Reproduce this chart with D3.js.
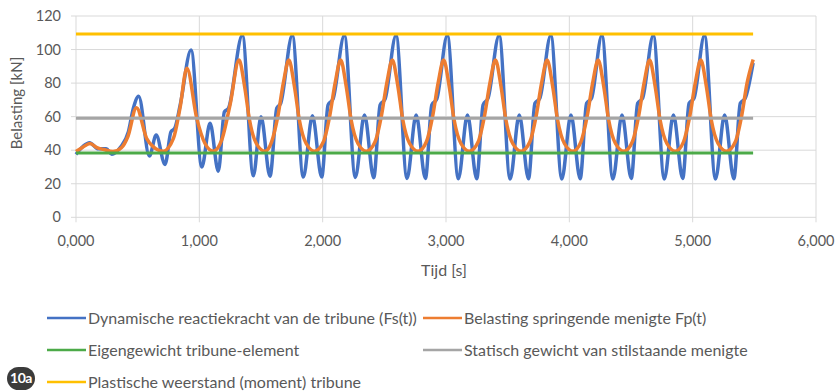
<!DOCTYPE html>
<html lang="nl">
<head>
<meta charset="UTF-8">
<title>Belasting tribune</title>
<script src="https://cdn.jsdelivr.net/npm/d3@7"></script>
<style>
  body { margin: 0; background: #fff; }
  svg { display: block; font-family: Lato, "Open Sans", sans-serif; }
</style>
</head>
<body>
<script>
// waarden (tijd in s, belasting in kN)
const blueT = [0.000, 0.060, 0.110, 0.180, 0.245, 0.290, 0.360, 0.425, 0.465, 0.508,
  0.595, 0.650, 0.722, 0.770, 0.800, 0.845, 0.933, 1.020, 1.087, 1.154,
  1.203, 1.236, 1.349, 1.438, 1.500, 1.573, 1.628, 1.660, 1.754,
  1.843, 1.917, 1.992, 2.044, 2.084, 2.176,
  2.265, 2.339, 2.414, 2.466, 2.506, 2.595,
  2.684, 2.758, 2.833, 2.885, 2.925, 3.011,
  3.100, 3.174, 3.249, 3.301, 3.341, 3.431,
  3.520, 3.594, 3.669, 3.721, 3.761, 3.850,
  3.939, 4.013, 4.088, 4.140, 4.180, 4.264,
  4.353, 4.427, 4.502, 4.554, 4.594, 4.681,
  4.770, 4.844, 4.919, 4.971, 5.011, 5.096,
  5.185, 5.259, 5.334, 5.386, 5.426, 5.490]
const blueV = [37.5, 42.5, 44.5, 40.8, 40.8, 37.6, 41.8, 51, 65, 72.2,
  36.5, 49, 31.5, 51, 53, 67, 99.7, 30, 56, 27.5,
  62.9, 65, 108.5, 24.7, 60, 24.5, 65, 68, 108.5,
  24, 60.5, 24, 67, 70.5, 108.5,
  23.8, 61, 23.6, 67, 70.5, 108.5,
  23.2, 61, 23.2, 67, 70.5, 108.5,
  23, 61, 23, 67, 71, 108.5,
  22.8, 61, 23, 68, 71, 108.5,
  22.8, 61, 23, 68, 71, 108.5,
  22.8, 61, 23.2, 68, 71, 108.5,
  22.8, 61, 23.2, 68, 71, 108.5,
  22.8, 61, 23, 68, 71, 92]

const orangeT = [0.000, 0.055, 0.114, 0.170, 0.225, 0.300, 0.370, 0.420, 0.490, 0.573,
  0.627, 0.708, 0.790, 0.843, 0.899, 0.979, 1.046, 1.113, 1.181, 1.249, 1.322,
  1.367, 1.407, 1.462, 1.533, 1.586, 1.636, 1.681, 1.726,
  1.771, 1.811, 1.866, 1.936, 2.006, 2.056, 2.101, 2.146,
  2.191, 2.231, 2.286, 2.356, 2.425, 2.475, 2.520, 2.565,
  2.610, 2.650, 2.705, 2.775, 2.841, 2.891, 2.936, 2.981,
  3.026, 3.066, 3.121, 3.191, 3.261, 3.311, 3.356, 3.401,
  3.446, 3.486, 3.541, 3.611, 3.680, 3.730, 3.775, 3.820,
  3.865, 3.905, 3.960, 4.030, 4.094, 4.144, 4.189, 4.234,
  4.279, 4.319, 4.374, 4.444, 4.511, 4.561, 4.606, 4.651,
  4.696, 4.736, 4.791, 4.861, 4.926, 4.976, 5.021, 5.066,
  5.111, 5.151, 5.206, 5.276, 5.346, 5.396, 5.441, 5.490]
const orangeV = [39.2, 41.8, 44, 41.5, 40.4, 39.2, 41.6, 48, 65.3, 47,
  42, 39.4, 47, 65, 88.8, 59, 44, 39.4, 46, 67, 93.7,
  78, 58, 44, 39.4, 45, 60, 80, 93.7,
  78, 58, 44, 39.4, 45, 60, 80, 93.7,
  78, 58, 44, 39.4, 45, 60, 80, 93.7,
  78, 58, 44, 39.4, 45, 60, 80, 93.7,
  78, 58, 44, 39.4, 45, 60, 80, 93.7,
  78, 58, 44, 39.4, 45, 60, 80, 93.7,
  78, 58, 44, 39.4, 45, 60, 80, 93.7,
  78, 58, 44, 39.4, 45, 60, 80, 93.7,
  78, 58, 44, 39.4, 45, 60, 80, 93.7,
  78, 58, 44, 39.4, 45, 60, 80, 94]

const flatT = [0, 5.49]
const eigengewicht = 38.3
const statisch = 59
const plastisch = 109.2

const xTicks = [0, 1, 2, 3, 4, 5, 6]
const yTicks = [0, 20, 40, 60, 80, 100, 120]

const legendNames = [
  'Dynamische reactiekracht van de tribune (Fs(t))',
  'Belasting springende menigte Fp(t)',
  'Eigengewicht tribune-element',
  'Statisch gewicht van stilstaande menigte',
  'Plastische weerstand (moment) tribune'
]
const colors = ['#4472C4', '#ED7D31', '#4CAA48', '#A5A5A5', '#FFC000']

const [width, height] = [836, 391]
const x = d3.scaleLinear().domain([0, 6]).range([76, 816])
const y = d3.scaleLinear().domain([0, 120]).range([217.3, 16])
const nl = d3.formatLocale({decimal: ',', thousands: '.', grouping: [3], currency: ['€', '']})
const fmt = nl.format('.3f')

const svg = d3.select('body').append('svg')
  .attr('width', width)
  .attr('height', height)

// rasterlijnen
svg.append('g').selectAll('line').data(yTicks).enter().append('line')
  .attr('x1', x(0) - 5).attr('x2', x(6))
  .attr('y1', d => y(d)).attr('y2', d => y(d))
  .attr('stroke', '#d9d9d9').attr('stroke-width', 1)
svg.append('g').selectAll('line').data(xTicks).enter().append('line')
  .attr('x1', d => x(d)).attr('x2', d => x(d))
  .attr('y1', y(120)).attr('y2', y(0) + 5)
  .attr('stroke', '#d9d9d9').attr('stroke-width', 1)

// labels
svg.append('g').selectAll('text').data(yTicks).enter().append('text')
  .attr('x', 61).attr('y', d => y(d) + 5)
  .attr('text-anchor', 'end')
  .attr('font-size', 14.5).attr('fill', '#595959')
  .text(d => d)
svg.append('g').selectAll('text').data(xTicks).enter().append('text')
  .attr('x', d => x(d)).attr('y', 246)
  .attr('text-anchor', 'middle')
  .attr('font-size', 14.5).attr('fill', '#595959')
  .text(d => fmt(d))

svg.append('text')
  .attr('x', x(3) - 2).attr('y', 276)
  .attr('text-anchor', 'middle')
  .attr('font-size', 16).attr('fill', '#595959')
  .text('Tijd [s]')
svg.append('text')
  .attr('transform', 'translate(22,103) rotate(-90)')
  .attr('text-anchor', 'middle')
  .attr('font-size', 15).attr('fill', '#595959')
  .text('Belasting [kN]')

// reeksen
const line = d3.line()
  .x(d => x(d[0]))
  .y(d => y(d[1]))
  .curve(d3.curveMonotoneX)

const series = [
  {pts: blueT.map((t, i) => [t, blueV[i]]), w: 3.5},
  {pts: orangeT.map((t, i) => [t, orangeV[i]]), w: 3.5},
  {pts: flatT.map(t => [t, eigengewicht]), w: 3},
  {pts: flatT.map(t => [t, statisch]), w: 3},
  {pts: flatT.map(t => [t, plastisch]), w: 3}
]
svg.append('g').selectAll('path').data(series).enter().append('path')
  .attr('d', d => line(d.pts))
  .attr('fill', 'none')
  .attr('stroke', (d, i) => colors[i])
  .attr('stroke-width', d => d.w)
  .attr('stroke-linejoin', 'round')

// legenda
const legPos = [[47, 318], [423, 318], [47, 350], [423, 350], [47, 382]]
const leg = svg.append('g').selectAll('g').data(legendNames).enter().append('g')
  .attr('transform', (d, i) => `translate(${legPos[i][0]},${legPos[i][1]})`)
leg.append('line')
  .attr('x1', 0).attr('x2', 39)
  .attr('stroke', (d, i) => colors[i]).attr('stroke-width', 2.5)
leg.append('text')
  .attr('x', 41).attr('y', 5.5)
  .attr('font-size', 16).attr('fill', '#595959')
  .text(d => d)

// label 10a
svg.append('rect')
  .attr('x', 7).attr('y', 367).attr('width', 28).attr('height', 23).attr('rx', 11.5)
  .attr('fill', '#3b3b3b')
svg.append('text')
  .attr('x', 21).attr('y', 383)
  .attr('text-anchor', 'middle')
  .attr('font-size', 14).attr('font-weight', 'bold').attr('fill', '#fff')
  .attr('letter-spacing', -0.5)
  .text('10a')
</script>
</body>
</html>
